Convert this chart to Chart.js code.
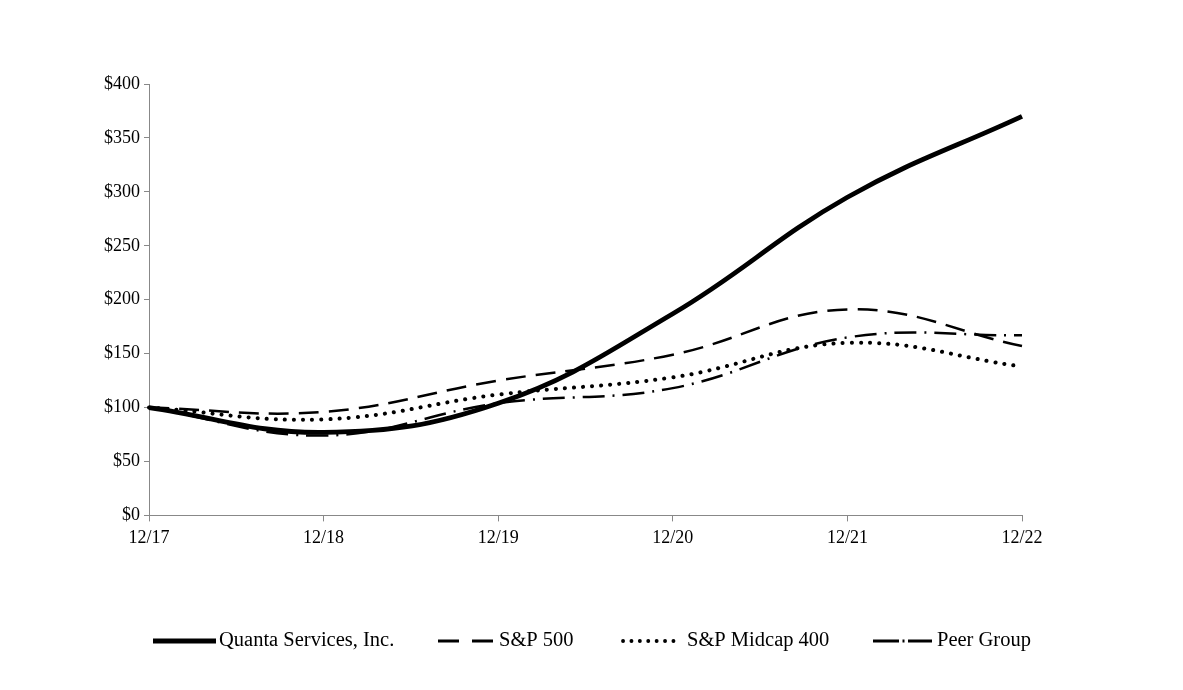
<!DOCTYPE html>
<html>
<head>
<meta charset="utf-8">
<script src="https://cdn.jsdelivr.net/npm/chart.js@4.4.0/dist/chart.umd.min.js"></script>
<style>
  html, body { margin: 0; padding: 0; background: #fff; }
  #wrap { width: 1183px; height: 690px; }
</style>
</head>
<body>
<div id="wrap"><canvas id="myChart" width="1183" height="690"></canvas></div>
<script>
// ---- data ----
const years = ["12/17", "12/18", "12/19", "12/20", "12/21", "12/22"];
const quanta = [100, 77, 104, 187, 295, 370];
const sp500 = [100, 96, 125, 149, 191, 157];
const midcap = [100, 89, 112, 128, 160, 138];
const peer = [100, 74, 104, 118, 165, 167];
const yTicks = [0, 50, 100, 150, 200, 250, 300, 350, 400];

const font = "'Liberation Serif', 'Times New Roman', serif";

function series(label, values, width, dash, cap) {
  return {
    label: label,
    data: values,
    borderColor: "#000",
    backgroundColor: "#000",
    borderWidth: width,
    borderDash: dash,
    borderCapStyle: cap,
    pointRadius: 0,
    pointHoverRadius: 0,
    tension: 0.4,
    fill: false,
  };
}

const data = {
  labels: years,
  datasets: [
    series("Quanta Services, Inc.", quanta, 4.8, [], "butt"),
    series("S&P 500", sp500, 2.5, [20, 10], "butt"),
    series("S&P Midcap 400", midcap, 4, [0.1, 9], "round"),
    series("Peer Group", peer, 2.5, [22, 8, 2, 8], "butt"),
  ],
};

/////////////////// legend drawn below the plot, like the original ///////////////////
// line start / end and text start for each item
const legendSlots = [
  { x1: 153, x2: 216, tx: 219, w: 5, dash: [], cap: "butt" },
  { x1: 438, x2: 493, tx: 499, w: 3, dash: [21, 13], cap: "butt" },
  { x1: 623, x2: 681, tx: 687, w: 3.8, dash: [0.1, 8.3], cap: "round" },
  { x1: 873, x2: 932, tx: 937, w: 3, dash: [26, 3.5, 2, 3.5], cap: "butt" },
];
const legendY = 641;

const bottomLegend = {
  id: "bottomLegend",
  afterDraw(chart) {
    const ctx = chart.ctx;
    ctx.save();
    chart.data.datasets.forEach((ds, i) => {
      const s = legendSlots[i];
      ctx.beginPath();
      ctx.strokeStyle = "#000";
      ctx.lineWidth = s.w;
      ctx.lineCap = s.cap;
      ctx.setLineDash(s.dash);
      ctx.moveTo(s.x1, legendY);
      ctx.lineTo(s.x2, legendY);
      ctx.stroke();
      ctx.setLineDash([]);
      ctx.fillStyle = "#000";
      ctx.font = "20.5px " + font;
      ctx.textBaseline = "middle";
      ctx.textAlign = "left";
      ctx.fillText(ds.label, s.tx, legendY);
    });
    ctx.restore();
  },
};

const config = {
  type: "line",
  data: data,
  options: {
    responsive: false,
    animation: false,
    layout: { padding: { left: 100, right: 161, top: 84, bottom: 135 } },
    plugins: {
      tooltip: { enabled: false },
      legend: { display: false },
    },
    scales: {
      x: {
        type: "category",
        offset: false,
        grid: { display: true, drawOnChartArea: false, tickLength: 6, color: "#888" },
        border: { color: "#888", width: 1 },
        ticks: { color: "#000", font: { family: font, size: 18 }, padding: 6, maxRotation: 0 },
      },
      y: {
        min: 0,
        max: 400,
        afterBuildTicks: (axis) => { axis.ticks = yTicks.map((v) => ({ value: v })); },
        grid: { display: true, drawOnChartArea: false, tickLength: 5, color: "#888" },
        border: { color: "#888", width: 1 },
        ticks: { color: "#000", font: { family: font, size: 18 }, padding: 4, callback: (v) => "$" + v },
      },
    },
  },
  plugins: [bottomLegend],
};

const myChart = new Chart(document.getElementById("myChart"), config);
</script>
</body>
</html>
